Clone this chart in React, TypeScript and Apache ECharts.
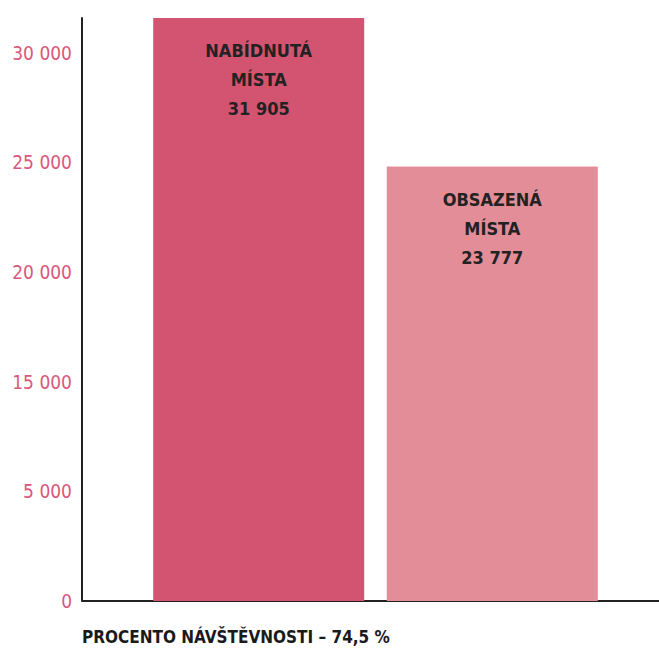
import React, { useEffect, useRef } from "react";
import * as echarts from "echarts";

const seriesNames = ["NABÍDNUTÁ\nMÍSTA", "OBSAZENÁ\nMÍSTA"];
const seriesValues = [31905, 23777];
const barColors = ["#d35470", "#e38d99"];
const tickLabels = ["0", "5 000", "15 000", "20 000", "25 000", "30 000"];
const tickStep = 6000;
const footnote = "PROCENTO NÁVŠTĚVNOSTI – 74,5 %";

const condensed = "'Liberation Sans Narrow', 'DejaVu Sans Condensed', 'Roboto', sans-serif";

const fmt = (v: number) => String(v).replace(/\B(?=(\d{3})+(?!\d))/g, " ");

export default function App() {
  const ref = useRef<HTMLDivElement>(null);
  useEffect(() => {
    if (!ref.current) return;
    const chart = echarts.init(ref.current, undefined, { renderer: "svg" });
    chart.setOption({
      animation: false,
      backgroundColor: "#ffffff",
      grid: { left: 92, right: 0, top: 18, bottom: 49 },
      xAxis: {
        type: "category",
        data: ["MÍSTA"],
        axisLine: { show: true, lineStyle: { color: "#222", width: 2 } },
        axisTick: { show: false },
        axisLabel: { show: false },
      },
      yAxis: {
        type: "value",
        min: 0,
        max: Math.max(...seriesValues),
        interval: tickStep,
        offset: 10,
        splitLine: { show: false },
        axisTick: { show: false },
        axisLine: { show: true, lineStyle: { color: "#222", width: 2 } },
        axisLabel: {
          margin: 10,
          color: "#d9587c",
          fontSize: 19,
          fontFamily: condensed,
          showMaxLabel: false,
          formatter: (v: number) => {
            const i = v / tickStep;
            return Number.isInteger(i) && tickLabels[i] !== undefined ? tickLabels[i] : "";
          },
        },
      },
      series: seriesNames.map((name, idx) => ({
        type: "bar",
        name,
        data: [seriesValues[idx]],
        barWidth: 211,
        barGap: "10.7%",
        itemStyle: { color: barColors[idx] },
        label: {
          show: true,
          position: "insideTop",
          distance: 18,
          color: "#222",
          fontSize: 18,
          fontWeight: "bold",
          fontFamily: condensed,
          lineHeight: 29,
          align: "center",
          formatter: (p: any) => `${p.seriesName}\n${fmt(p.value)}`,
        },
      })),
      graphic: [
        {
          type: "line",
          shape: { x1: 82, y1: 601, x2: 93, y2: 601 },
          style: { stroke: "#222", lineWidth: 2 },
          silent: true,
        },
        {
          type: "text",
          left: 82,
          top: 628,
          style: {
            text: footnote,
            fill: "#1a1a1a",
            fontSize: 17,
            fontWeight: "bold",
            fontFamily: condensed,
          },
        },
      ],
    });
    return () => chart.dispose();
  }, []);
  return (
    <div
      ref={ref}
      style={{ position: "fixed", left: 0, top: 0, width: 659, height: 650 }}
    />
  );
}
